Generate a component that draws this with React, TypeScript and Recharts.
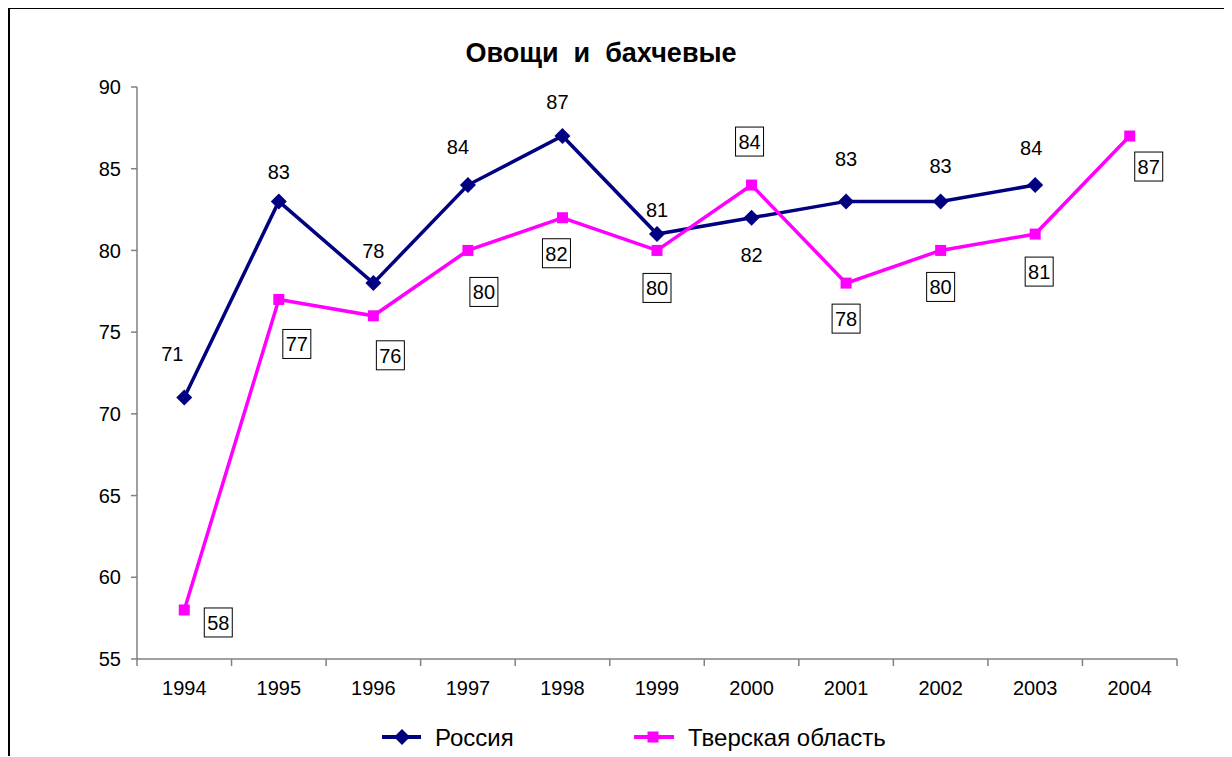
import React from 'react';
import { LineChart, Line, XAxis, YAxis, LabelList, Legend } from 'recharts';

const years = ['1994', '1995', '1996', '1997', '1998', '1999', '2000', '2001', '2002', '2003', '2004'];
const russia = [71, 83, 78, 84, 87, 81, 82, 83, 83, 84, null];
const tver = [58, 77, 76, 80, 82, 80, 84, 78, 80, 81, 87];
const yTicks = [55, 60, 65, 70, 75, 80, 85, 90];

// label offsets relative to the point (dx, dy), picked by eye
const russiaLabelOffsets = [
  [-12, -44], [0, -29], [0, -32], [-10, -38], [-5, -34], [0, -24], [0, 37], [0, -42], [0, -35], [-4, -37], [0, 0],
];
const tverLabelOffsets = [
  [34, 13], [18, 45], [17, 40], [16, 42], [-6, 36], [0, 38], [-2, -43], [0, 36], [0, 37], [4, 38], [19, 31],
];

const data = years.map((year, i) => ({ year, russia: russia[i], tver: tver[i] }));

const W = 1222;
const H = 747;
const LEGEND_H = 32;
const margin = { top: 78, right: 55, left: 0, bottom: 35 };
const yAxisWidth = 127;
const band = (W - margin.left - margin.right - yAxisWidth) / years.length;
const FONT = 'Arial, "Liberation Sans", sans-serif';

const XTick = (props: any) => {
  const { x, y, payload, index } = props;
  const axisY = y - 8;
  return (
    <g>
      <line x1={x - band / 2} y1={axisY} x2={x - band / 2} y2={axisY + 7} stroke="#808080" strokeWidth={1.5} />
      {index === years.length - 1 && (
        <line x1={x + band / 2} y1={axisY} x2={x + band / 2} y2={axisY + 7} stroke="#808080" strokeWidth={1.5} />
      )}
      <text x={x} y={axisY + 36} textAnchor="middle" fontSize={20} fontFamily={FONT} fill="#000">
        {payload.value}
      </text>
    </g>
  );
};

const Diamond = (props: any) => {
  const { cx, cy, value } = props;
  if (value == null || cx == null) return null;
  const r = 8;
  return <polygon points={`${cx},${cy - r} ${cx + r},${cy} ${cx},${cy + r} ${cx - r},${cy}`} fill="#000080" />;
};

const Square = (props: any) => {
  const { cx, cy, value } = props;
  if (value == null || cx == null) return null;
  const s = 11;
  return <rect x={cx - s / 2} y={cy - s / 2} width={s} height={s} fill="#FF00FF" />;
};

const makeLabel = (offsets: number[][], boxed: boolean) => (props: any) => {
  const { x, y, value, index } = props;
  if (value == null) return null;
  const [dx, dy] = offsets[index];
  const cx = x + dx;
  const cy = y + dy;
  return (
    <g>
      {boxed && <rect x={cx - 14} y={cy - 15} width={28} height={29} fill="#fff" stroke="#000" strokeWidth={1} />}
      <text x={cx} y={cy + 7} textAnchor="middle" fontSize={20} fontFamily={FONT} fill="#000">
        {value}
      </text>
    </g>
  );
};

const renderLegend = () => (
  <svg width={W} height={LEGEND_H} style={{ display: 'block' }}>
    <line x1={372} y1={16} x2={411} y2={16} stroke="#000080" strokeWidth={4} />
    <polygon points="392,8 400,16 392,24 384,16" fill="#000080" />
    <text x={425} y={24.5} fontSize={24} fontFamily={FONT} fill="#000">Россия</text>
    <line x1={624} y1={16} x2={664} y2={16} stroke="#FF00FF" strokeWidth={4} />
    <rect x={637.5} y={10.5} width={11} height={11} fill="#FF00FF" />
    <text x={678} y={24.5} fontSize={24} fontFamily={FONT} fill="#000">Тверская область</text>
  </svg>
);

export default function App() {
  return (
    <div
      style={{
        position: 'relative',
        width: 1222,
        height: 747,
        borderLeft: '2px solid #000',
        borderTop: '2px solid #000',
        marginTop: -1,
        overflow: 'hidden',
        fontFamily: FONT,
      }}
    >
      <div
        style={{
          position: 'absolute',
          left: 0,
          top: 29,
          width: 1182,
          textAlign: 'center',
          fontSize: 27,
          fontWeight: 'bold',
          whiteSpace: 'pre',
        }}
      >
        {'Овощи  и  бахчевые'}
      </div>
      <LineChart width={W} height={H} data={data} margin={margin}>
        <XAxis
          dataKey="year"
          scale="band"
          stroke="#808080"
          strokeWidth={1.5}
          tickLine={false}
          tick={<XTick />}
          interval={0}
        />
        <YAxis
          domain={[55, 90]}
          ticks={yTicks}
          width={yAxisWidth}
          stroke="#808080"
          strokeWidth={1.5}
          tickSize={6}
          tick={{ fontSize: 20, fill: '#000', fontFamily: FONT }}
          tickMargin={10}
          interval={0}
        />
        <Legend
          verticalAlign="bottom"
          content={renderLegend}
          height={LEGEND_H}
          wrapperStyle={{ position: 'absolute', left: 0, top: 712, width: W, height: LEGEND_H }}
        />
        <Line
          dataKey="russia"
          name="Россия"
          stroke="#000080"
          strokeWidth={3.5}
          dot={<Diamond />}
          activeDot={false}
          isAnimationActive={false}
        >
          <LabelList dataKey="russia" content={makeLabel(russiaLabelOffsets, false)} />
        </Line>
        <Line
          dataKey="tver"
          name="Тверская область"
          stroke="#FF00FF"
          strokeWidth={3.5}
          dot={<Square />}
          activeDot={false}
          isAnimationActive={false}
        >
          <LabelList dataKey="tver" content={makeLabel(tverLabelOffsets, true)} />
        </Line>
      </LineChart>
    </div>
  );
}
